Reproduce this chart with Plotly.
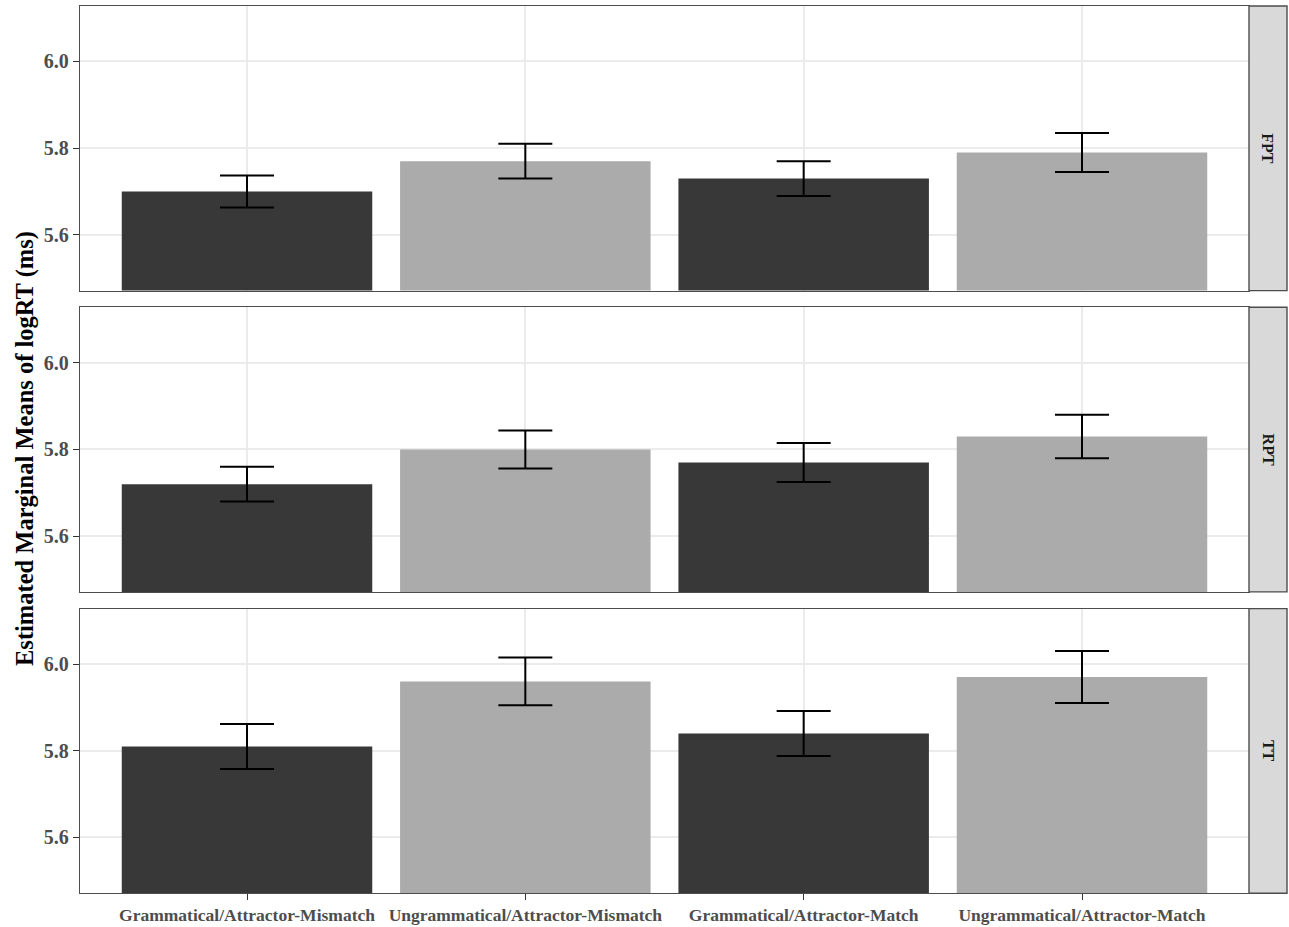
import plotly.graph_objects as go

# Conditions on the x axis and reading-time measures (one facet each)
conditions = [
    "Grammatical/Attractor-Mismatch",
    "Ungrammatical/Attractor-Mismatch",
    "Grammatical/Attractor-Match",
    "Ungrammatical/Attractor-Match",
]
measures = ["FPT", "RPT", "TT"]

# Estimated marginal means of logRT and the half-width of their error bars
fpt_mean = [5.70, 5.77, 5.73, 5.79]
fpt_err = [0.037, 0.040, 0.040, 0.045]
rpt_mean = [5.72, 5.80, 5.77, 5.83]
rpt_err = [0.040, 0.044, 0.045, 0.050]
tt_mean = [5.81, 5.96, 5.84, 5.97]
tt_err = [0.052, 0.055, 0.052, 0.060]

means = [fpt_mean, rpt_mean, tt_mean]
errors = [fpt_err, rpt_err, tt_err]

y_ticks = [5.6, 5.8, 6.0]
y_range = [5.4715, 6.128]

bar_colors = ["#383838", "#ababab", "#383838", "#ababab"]

W, H = 1289, 927
FONT = "Liberation Serif"
panel_left, panel_right = 80, 1249
panel_tops = [6, 307.3, 608.6]
panel_h = 284.6
strip_w = 38

fig = go.Figure()
layout = dict(
    width=W, height=H,
    margin=dict(l=0, r=0, t=0, b=0),
    paper_bgcolor="white", plot_bgcolor="white",
    showlegend=False,
    bargap=0.1,
    font=dict(family=FONT),
)

shapes = []
annotations = []

for i, (m, vals, errs) in enumerate(zip(measures, means, errors)):
    n = "" if i == 0 else str(i + 1)
    xa, ya = "x" + n, "y" + n
    fig.add_trace(go.Bar(
        x=list(range(len(conditions))), y=vals,
        marker=dict(color=bar_colors, line=dict(width=0)),
        width=0.9,
        error_y=dict(type="data", array=errs, visible=True,
                     color="black", thickness=2, width=27),
        xaxis=xa, yaxis=ya,
    ))
    top = panel_tops[i]
    bottom = top + panel_h
    dom_y = [1 - bottom / H, 1 - top / H]
    last = i == len(measures) - 1
    layout["xaxis" + n] = dict(
        domain=[panel_left / W, panel_right / W],
        anchor=ya,
        range=[-0.6, len(conditions) - 0.4],
        tickmode="array",
        tickvals=list(range(len(conditions))),
        ticktext=conditions if last else [""] * len(conditions),
        showticklabels=last,
        ticks="outside" if last else "",
        ticklen=6, tickwidth=1.3, tickcolor="#333333",
        tickfont=dict(family=FONT, size=17.5, color="#4d4d4d", weight="bold"),
        showgrid=True, gridcolor="#ebebeb", gridwidth=1.6,
        showline=True, mirror=True, linecolor="#4d4d4d", linewidth=1.4,
        zeroline=False,
    )
    layout["yaxis" + n] = dict(
        domain=dom_y,
        anchor=xa,
        range=y_range,
        tickmode="array",
        tickvals=y_ticks,
        ticktext=[f"{v:.1f}" for v in y_ticks],
        ticks="outside", ticklen=6, tickwidth=1.3, tickcolor="#333333",
        tickfont=dict(family=FONT, size=20, color="#4d4d4d", weight="bold"),
        showgrid=True, gridcolor="#ebebeb", gridwidth=1.6,
        showline=True, mirror=True, linecolor="#4d4d4d", linewidth=1.4,
        zeroline=False,
    )
    # facet strip on the right
    shapes.append(dict(
        type="rect", xref="paper", yref="paper",
        x0=panel_right / W, x1=(panel_right + strip_w) / W,
        y0=dom_y[0], y1=dom_y[1],
        fillcolor="#d9d9d9", line=dict(color="#4d4d4d", width=1.4),
        layer="above",
    ))
    annotations.append(dict(
        text=m, xref="paper", yref="paper",
        x=(panel_right + strip_w / 2) / W, y=(dom_y[0] + dom_y[1]) / 2,
        xanchor="center", yanchor="middle",
        showarrow=False, textangle=90,
        font=dict(family=FONT, size=16, color="#1a1a1a", weight="bold"),
    ))

annotations.append(dict(
    text="Estimated Marginal Means of logRT (ms)",
    xref="paper", yref="paper",
    x=25 / W, y=1 - 449 / H,
    xanchor="center", yanchor="middle",
    showarrow=False, textangle=-90,
    font=dict(family=FONT, size=24.5, color="black", weight="bold"),
))

layout["shapes"] = shapes
layout["annotations"] = annotations
fig.update_layout(**layout)

fig.write_html("out.html")
